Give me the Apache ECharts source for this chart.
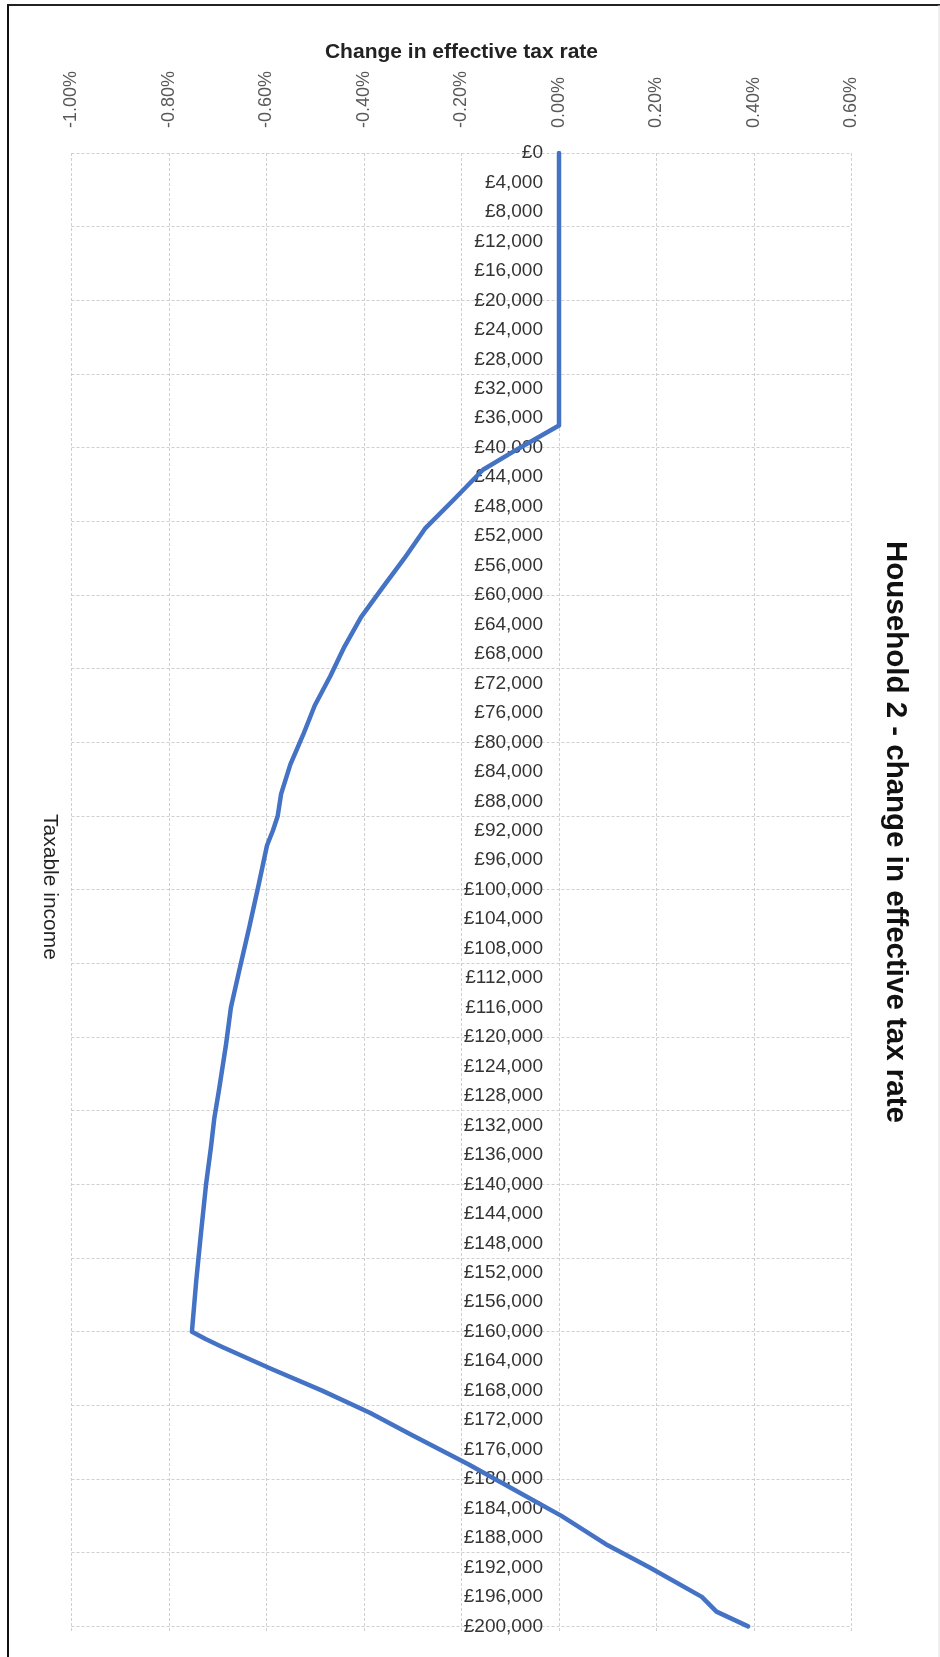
<!DOCTYPE html>
<html>
<head>
<meta charset="utf-8">
<script src="https://cdn.jsdelivr.net/npm/echarts@6.0.0/dist/echarts.min.js"></script>
<style>
html, body { margin: 0; padding: 0; background: #fff; }
#chart { width: 940px; height: 1657px; }
</style>
</head>
<body>
<div id="chart"></div>
<script>
// taxable income (£) and change in effective tax rate (%)
var incomes = [0, 37000, 40000, 43000, 47000, 51000, 55000, 59000, 63000, 67000,
    71000, 75000, 79000, 83000, 87000, 90000, 92000, 94000, 99000, 105000,
    111000, 116000, 121000, 127000, 131000, 135000, 140000, 147000, 153000, 160000,
    161000, 162000, 165000, 168000, 171000, 174000, 178000, 182000, 185000, 189000,
    192000, 196000, 198000, 200000]
var rateChange = [0, 0, -0.080, -0.156, -0.215, -0.275, -0.317, -0.362, -0.406, -0.440,
    -0.469, -0.501, -0.525, -0.551, -0.570, -0.577, -0.587, -0.599, -0.615, -0.635,
    -0.656, -0.673, -0.683, -0.697, -0.707, -0.714, -0.724, -0.735, -0.744, -0.753,
    -0.725, -0.693, -0.592, -0.486, -0.388, -0.303, -0.186, -0.077, 0.005, 0.100,
    0.186, 0.293, 0.323, 0.388]

// axis ranges
var rateMin = -1.0, rateMax = 0.6, rateStep = 0.2
var incomeMax = 200900, incomeLabelStep = 4000, incomeGridStep = 10000

var font = "'Liberation Sans', Arial, sans-serif"
var gridColor = '#cfcfcf'

var gridLeft = 71.5, gridRight = 88.5
var plotWidth = 940 - gridLeft - gridRight
// move the income labels in to the 0% line, like excel does
var zeroOffset = -plotWidth * (0 - rateMin) / (rateMax - rateMin)

var myChart = echarts.init(document.getElementById('chart'))

var option = {
    animation: false,
    backgroundColor: '#fff',
    grid: {
        left: gridLeft,
        right: gridRight,
        top: 153,
        bottom: 24
    },
    xAxis: {
        type: 'value',
        position: 'top',
        min: rateMin,
        max: rateMax,
        interval: rateStep,
        name: 'Change in effective tax rate',
        nameLocation: 'middle',
        nameGap: 87,
        nameTextStyle: { fontFamily: font, fontSize: 21, fontWeight: 'bold', color: '#222' },
        axisLine: { show: false, onZero: false },
        axisTick: { show: false },
        axisLabel: {
            rotate: -90,
            margin: 25,
            fontFamily: font,
            fontSize: 18,
            color: '#595959',
            formatter: function (v) { return v.toFixed(2) + '%' }
        },
        splitLine: { show: true, lineStyle: { color: gridColor, width: 1, type: [3, 2] } }
    },
    yAxis: [
        {
            type: 'value',
            position: 'left',
            offset: zeroOffset,
            inverse: true,
            min: 0,
            max: incomeMax,
            interval: incomeLabelStep,
            axisLine: { show: false, onZero: false },
            axisTick: { show: false },
            splitLine: { show: false },
            axisLabel: {
                margin: 16,
                showMaxLabel: false,
                fontFamily: font,
                fontSize: 19,
                color: '#333',
                formatter: function (v) { return '£' + v.toLocaleString('en-GB') }
            }
        },
        {
            // only for the horizontal grid lines
            type: 'value',
            position: 'right',
            inverse: true,
            min: 0,
            max: incomeMax,
            interval: incomeGridStep,
            axisLine: { show: false, onZero: false },
            axisTick: { show: false },
            axisLabel: { show: false },
            splitLine: { show: true, showMaxLine: false, lineStyle: { color: gridColor, width: 1, type: [3, 2] } }
        }
    ],
    series: [{
        name: 'Household 2',
        type: 'line',
        yAxisIndex: 0,
        showSymbol: false,
        data: incomes.map(function (inc, i) { return [rateChange[i], inc] }),
        lineStyle: { color: '#4472C4', width: 4.5, cap: 'round', join: 'round' },
        z: 3
    }],
    graphic: [
        { type: 'line', shape: { x1: 7, y1: 5, x2: 940, y2: 5 }, style: { stroke: '#222', lineWidth: 2 } },
        { type: 'line', shape: { x1: 8, y1: 5, x2: 8, y2: 1657 }, style: { stroke: '#111', lineWidth: 2 } },
        { type: 'line', shape: { x1: 939, y1: 5, x2: 939, y2: 1657 }, style: { stroke: '#e0e0e0', lineWidth: 1 } },
        {
            type: 'text', x: 50, y: 887, rotation: -Math.PI / 2,
            style: {
                text: 'Taxable income', font: '21px ' + font, fill: '#222',
                textAlign: 'center', textVerticalAlign: 'middle', align: 'center', verticalAlign: 'middle'
            }
        },
        {
            type: 'text', x: 895, y: 832, rotation: -Math.PI / 2,
            style: {
                text: 'Household 2 - change in effective tax rate', font: 'bold 29.5px ' + font, fill: '#111',
                textAlign: 'center', textVerticalAlign: 'middle', align: 'center', verticalAlign: 'middle'
            }
        }
    ]
}
myChart.setOption(option, true)
</script>
</body>
</html>
